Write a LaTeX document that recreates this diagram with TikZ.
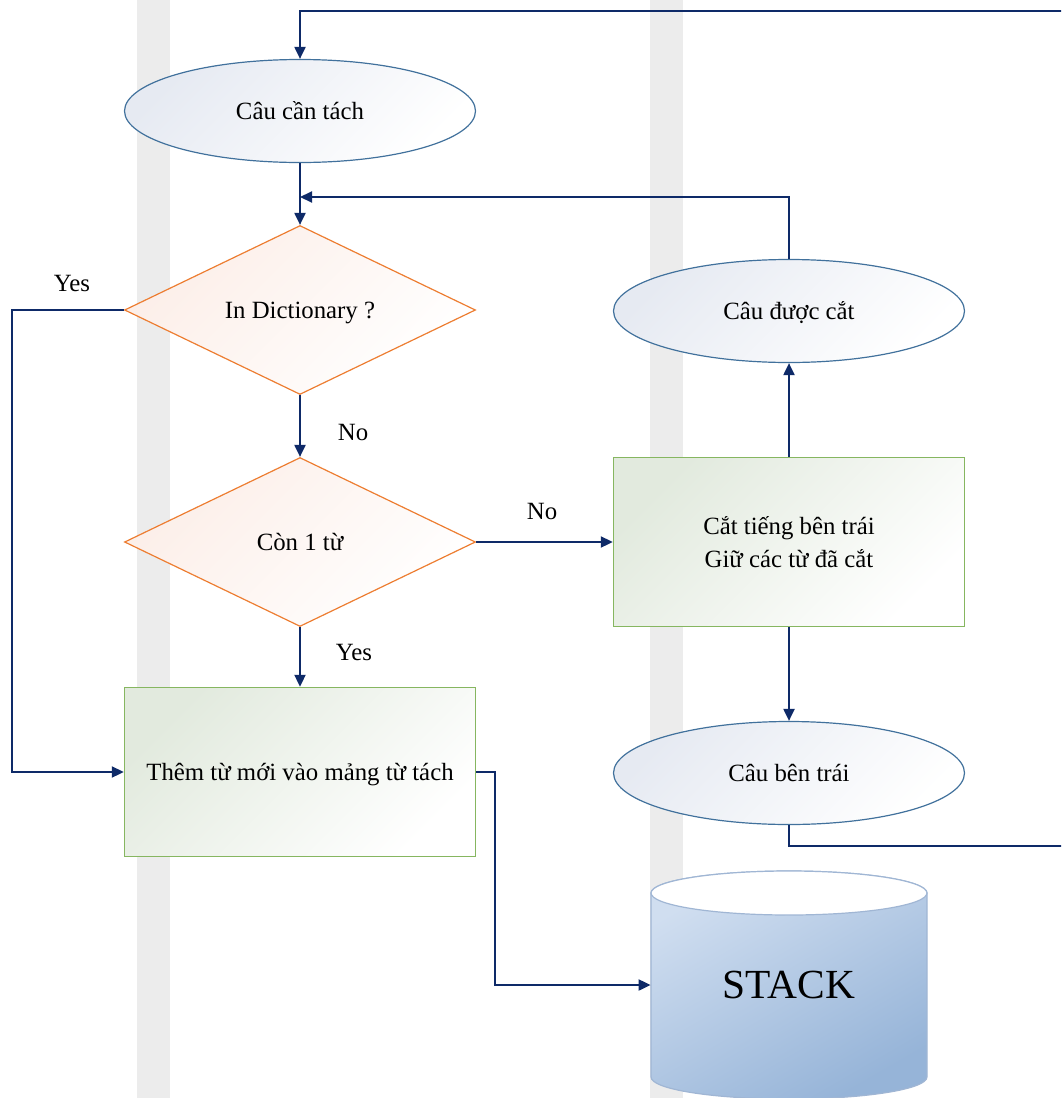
\documentclass[tikz,border=0pt]{standalone}
\usepackage{fontspec}
\setmainfont{Liberation Serif}
\usetikzlibrary{shapes.geometric,arrows.meta}
\definecolor{flowc}{RGB}{14,42,104}
\definecolor{termb}{RGB}{65,113,156}
\definecolor{termf}{RGB}{230,234,242}
\definecolor{decb}{RGB}{237,125,49}
\definecolor{decf}{RGB}{252,238,232}
\definecolor{procb}{RGB}{134,182,96}
\definecolor{procf}{RGB}{226,234,222}
\definecolor{stackb}{RGB}{160,182,212}
\definecolor{stackhi}{RGB}{208,222,240}
\definecolor{stacklo}{RGB}{150,180,216}
\definecolor{stripe}{RGB}{236,236,236}
\begin{document}
\begin{tikzpicture}[x=0.5pt, y=-0.5pt,
  every node/.style={font=\fontsize{12.4}{16.5}\selectfont},
  oneline/.style={text height=10.5pt, text depth=2.3pt},
  term/.style={ellipse, oneline, draw=termb, line width=0.6pt, minimum width=175.5pt, minimum height=51.5pt, inner sep=0pt, top color=termf, bottom color=white, shading angle=45},
  decision/.style={diamond, shape aspect=2.08, oneline, draw=decb, line width=0.6pt, minimum width=175.5pt, minimum height=84.5pt, inner sep=0pt, top color=decf, bottom color=white, shading angle=45},
  process/.style={rectangle, draw=procb, line width=0.7pt, minimum width=175.5pt, minimum height=84.5pt, inner sep=0pt, align=center, top color=procf, bottom color=white, shading angle=45},
  flow/.style={draw=flowc, line width=1pt, -{Triangle[length=6pt,width=5.5pt]}},
  lbl/.style={inner sep=0pt}]
  \useasboundingbox (0,0) rectangle (1061,1098);
  \clip (0,0) rectangle (1061,1098);
  \fill [stripe] (137,0) rectangle (170,1098);
  \fill [stripe] (650,0) rectangle (683,1098);

  \node [term] (cct) at (300,111) {Câu cần tách};
  \node [decision] (dict) at (300,310) {In Dictionary ?};
  \node [decision] (con) at (300,542) {Còn 1 từ};
  \node [process, oneline] (them) at (300,772) {Thêm từ mới vào mảng từ tách};
  \node [term] (cdc) at (789,311) {Câu được cắt};
  \node [process] (cat) at (789,542) {Cắt tiếng bên trái\\Giữ các từ đã cắt};
  \node [term] (cbt) at (789,773) {Câu bên trái};

  \path [draw=stackb, line width=0.6pt, top color=stackhi, bottom color=stacklo, shading angle=30]
    (651,893) -- (651,1077) arc[start angle=180, end angle=360, x radius=69pt, y radius=11pt]
    -- (927,893) arc[start angle=0, end angle=180, x radius=69pt, y radius=11pt] -- cycle;
  \draw [stackb, line width=0.6pt, fill=white] (789,893) ellipse[x radius=69pt, y radius=11pt];
  \node [inner sep=0pt, minimum width=138pt, font=\fontsize{20.7}{24}\selectfont] (stack) at (789,985) {STACK};

  \node [lbl] (yes1) at (72,283) {Yes};
  \node [lbl] (no1) at (353,432) {No};
  \node [lbl] (no2) at (542,511) {No};
  \node [lbl] (yes2) at (354,652) {Yes};

  \coordinate (merge) at (300,197);
  \coordinate (yesl) at (12,310);
  \coordinate (loopr) at (1080,846);
  \coordinate (loopt) at (1080,11);

  \draw [flow] (cbt.south) |- (loopr) -- (loopt) -| (cct.north);
  \draw [flow] (cct.south) -- (dict.north);
  \draw [flow] (cdc.north) |- (merge);
  \draw [flow] (dict.west) -- (yesl) |- (them.west);
  \draw [flow] (dict.south) -- (con.north);
  \draw [flow] (con.east) -- (cat.west);
  \draw [flow] (con.south) -- (them.north);
  \draw [flow] (them.east) -- ++(19,0) |- (stack.west);
  \draw [flow] (cat.north) -- (cdc.south);
  \draw [flow] (cat.south) -- (cbt.north);
\end{tikzpicture}
\end{document}
